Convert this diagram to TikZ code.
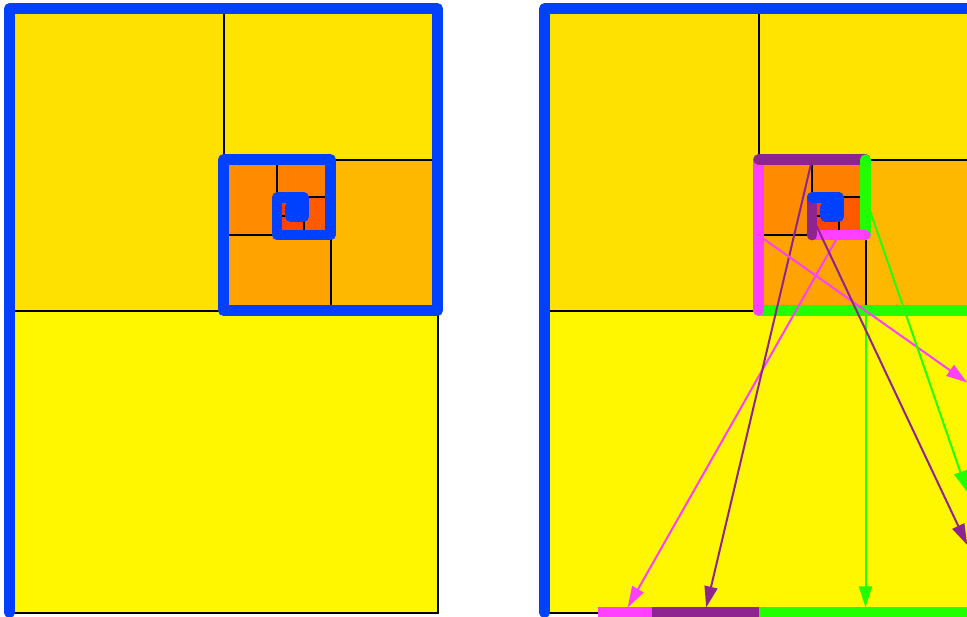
\documentclass[tikz,border=0pt]{standalone}
\usetikzlibrary{arrows.meta}
\definecolor{cA}{HTML}{FFF700}
\definecolor{cB}{HTML}{FFE100}
\definecolor{cC}{HTML}{FFE400}
\definecolor{cD}{HTML}{FFB800}
\definecolor{cE}{HTML}{FFA300}
\definecolor{cF}{HTML}{FF8C00}
\definecolor{cG}{HTML}{FF7F00}
\definecolor{cH}{HTML}{FF5A00}
\definecolor{cI}{HTML}{FF4500}
\definecolor{cJ}{HTML}{FF3A00}
\definecolor{cK}{HTML}{FF3000}
\definecolor{blueline}{HTML}{0040FF}
\definecolor{pinkline}{HTML}{FF40FF}
\definecolor{purpleline}{HTML}{8E2490}
\definecolor{greenline}{HTML}{22FF00}
\tikzset{
  cutline/.style={draw=black, line width=2pt},
  thick bar/.style={line width=10.5pt, line cap=round, line join=round},
  flat bar/.style={line width=10.5pt, line cap=butt},
  arr/.style={line width=2pt, -{Triangle[length=21pt,width=13pt]}},
}
\newcommand{\panelfills}{%
  \fill[cA] (9.5,310.7) rectangle (437.5,612.7);
  \fill[cB] (9.5,8.7) rectangle (223.5,310.7);
  \fill[cC] (223.5,8.7) rectangle (437.5,159.7);
  \fill[cD] (330.5,159.7) rectangle (437.5,310.7);
  \fill[cE] (223.5,235.2) rectangle (330.5,310.7);
  \fill[cF] (223.5,159.7) rectangle (277,235.2);
  \fill[cG] (277,159.7) rectangle (330.5,197.45);
  \fill[cH] (303.75,197.45) rectangle (330.5,235.2);
  \fill[cI] (277,216.325) rectangle (303.75,235.2);
  \fill[cJ] (277,197.45) rectangle (290.375,216.325);
  \fill[cK] (290.375,197.45) rectangle (303.75,216.325);
  \draw[cutline] (9.5,310.7) rectangle (437.5,612.7);
  \draw[cutline] (9.5,8.7) rectangle (223.5,310.7);
  \draw[cutline] (223.5,8.7) rectangle (437.5,159.7);
  \draw[cutline] (330.5,159.7) rectangle (437.5,310.7);
  \draw[cutline] (223.5,235.2) rectangle (330.5,310.7);
  \draw[cutline] (223.5,159.7) rectangle (277,235.2);
  \draw[cutline] (277,159.7) rectangle (330.5,197.45);
  \draw[cutline] (303.75,197.45) rectangle (330.5,235.2);
  \draw[cutline] (277,216.325) rectangle (303.75,235.2);
  \draw[cutline] (277,197.45) rectangle (290.375,216.325);
  \draw[cutline] (290.375,197.45) rectangle (303.75,206.89);
}
\begin{document}
\begin{tikzpicture}[x=1pt,y=-1pt]
\useasboundingbox (0,0) rectangle (967,617);
\clip (0,0) rectangle (967,617);
% ---------- left panel ----------
\panelfills
\draw[thick bar, blueline] (9.5,612.7) -- (9.5,8.7) -- (437.5,8.7) -- (437.5,310.7)
  -- (223.5,310.7) -- (223.5,159.7) -- (330.5,159.7) -- (330.5,235.2)
  -- (277,235.2) -- (277,197.45) -- (303.75,197.45) -- (303.75,216.325)
  -- (290.375,216.325) -- (290.375,206.89) -- (297.06,206.89) -- (297.06,211.61)
  -- (293.72,211.61) -- (293.72,209.25) -- (295.39,209.25);
% ---------- right panel ----------
\begin{scope}[xshift=535pt]
\panelfills
\draw[thick bar, blueline] (9.5,612.7) -- (9.5,8.7) -- (437.5,8.7) -- (437.5,310.7);
\draw[thick bar, greenline] (437.5,310.7) -- (223.5,310.7);
\draw[thick bar, pinkline] (223.5,310.7) -- (223.5,159.7);
\draw[thick bar, purpleline] (223.5,159.7) -- (330.5,159.7);
\draw[thick bar, greenline] (330.5,159.7) -- (330.5,235.2);
\draw[thick bar, pinkline] (330.5,235.2) -- (277,235.2);
\draw[thick bar, purpleline] (277,235.2) -- (277,197.45);
\draw[thick bar, blueline] (277,197.45) -- (303.75,197.45) -- (303.75,216.325)
  -- (290.375,216.325) -- (290.375,206.89) -- (297.06,206.89) -- (297.06,211.61)
  -- (293.72,211.61) -- (293.72,209.25) -- (295.39,209.25);
% unrolled segments on the bottom and right edges
\draw[flat bar, pinkline] (63,612.7) -- (116.5,612.7);
\draw[flat bar, purpleline] (116.5,612.7) -- (223.5,612.7);
\draw[flat bar, greenline] (223.5,612.7) -- (437.5,612.7);
\draw[flat bar, pinkline] (437.5,310.7) -- (437.5,461.7);
\draw[flat bar, greenline] (437.5,461.7) -- (437.5,537.2);
\draw[flat bar, purpleline] (437.5,537.2) -- (437.5,574.95);
% arrow end points
\coordinate (pinkA) at (303.75,235.2);
\coordinate (pinkAend) at (92.7,607.45);
\coordinate (purpleA) at (277,159.7);
\coordinate (purpleAend) at (171.2,607.45);
\coordinate (greenA) at (330.5,310.7);
\coordinate (greenAend) at (330.5,607.45);
\coordinate (pinkB) at (223.5,235.2);
\coordinate (pinkBend) at (432.25,382.5);
\coordinate (greenB) at (330.5,197.45);
\coordinate (greenBend) at (432.25,492);
\coordinate (purpleB) at (277,216.325);
\coordinate (purpleBend) at (432.25,545.0);
\draw[arr, pinkline] (pinkA) -- (pinkAend);
\draw[arr, purpleline] (purpleA) -- (purpleAend);
\draw[arr, greenline] (greenA) -- (greenAend);
\draw[arr, pinkline] (pinkB) -- (pinkBend);
\draw[arr, greenline] (greenB) -- (greenBend);
\draw[arr, purpleline] (purpleB) -- (purpleBend);
\end{scope}
\end{tikzpicture}
\end{document}
